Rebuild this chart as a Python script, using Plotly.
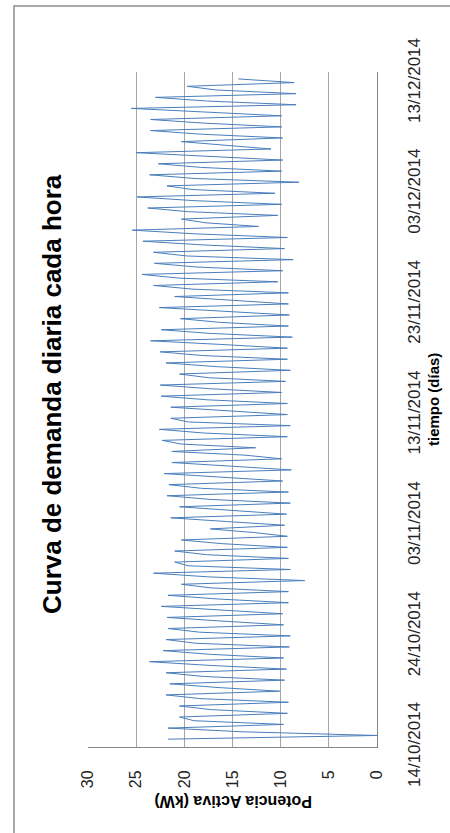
import pandas as pd
import plotly.graph_objects as go

# ---- data (kW) ----
start_date = "2014-10-14"
# daily night minimum, day 1..60
lows = [0.0, 9.7, 9.3, 9.2, 10.1, 9.6, 9.4, 9.7, 9.1, 9.0,
        9.7, 9.8, 9.2, 9.2, 7.5, 9.0, 9.2, 9.3, 9.3, 9.6,
        9.4, 9.0, 9.2, 9.8, 8.9, 9.9, 12.6, 9.3, 9.0, 9.3,
        9.3, 9.9, 9.5, 9.0, 9.3, 9.3, 8.8, 9.2, 9.1, 9.2,
        9.2, 10.3, 9.8, 8.7, 9.6, 9.3, 12.3, 10.3, 9.9, 10.6,
        8.1, 9.9, 9.8, 11.0, 9.8, 9.9, 9.9, 8.4, 8.4, 8.6]
# morning shoulder, day 1..60
shoulders = [14.0, 19.0, 17.2, 18.4, 16.5, 18.0, 17.4, 17.3, 18.8, 18.4,
             16.0, 16.3, 16.5, 17.2, 17.5, 19.6, 17.6, 16.1, 12.7, 15.6,
             15.3, 17.3, 18.2, 15.9, 15.1, 13.7, 20.3, 18.0, 19.6, 16.0,
             17.6, 17.3, 17.5, 16.7, 18.1, 16.1, 17.3, 16.3, 16.0, 14.9,
             19.1, 20.6, 18.7, 19.7, 18.1, 18.9, 17.8, 19.6, 19.0, 19.1,
             18.9, 18.2, 17.9, 15.4, 18.2, 17.9, 17.9, 17.6, 16.7, 14.4]
# afternoon peak, day 0..59
peaks = [21.7, 21.7, 20.5, 20.5, 21.9, 21.5, 21.9, 23.6, 22.2, 21.9,
         21.7, 21.8, 22.4, 21.7, 20.3, 23.2, 21.0, 21.0, 20.3, 17.3,
         21.4, 20.5, 21.8, 21.6, 22.1, 21.3, 21.3, 22.3, 22.6, 21.4,
         21.4, 22.4, 22.5, 20.5, 21.9, 22.5, 23.5, 22.4, 20.4, 22.6,
         21.0, 23.2, 24.4, 23.1, 23.2, 24.3, 25.4, 20.3, 23.8, 24.9,
         21.8, 23.6, 22.7, 25.0, 20.3, 23.5, 23.5, 25.5, 23.0, 19.7]

x_ticks = [0, 5, 10, 15, 20, 25, 30]
date_ticks = ["2014-10-14", "2014-10-24", "2014-11-03", "2014-11-13",
              "2014-11-23", "2014-12-03", "2014-12-13"]
date_labels = ["14/10/2014", "24/10/2014", "03/11/2014", "13/11/2014",
               "23/11/2014", "03/12/2014", "13/12/2014"]

# ---- build the series (night low, morning shoulder, afternoon peak per day) ----
base = pd.Timestamp(start_date)
times, vals = [], []
times.append(base + pd.Timedelta(hours=17)); vals.append(peaks[0])
for d in range(1, 61):
    day = base + pd.Timedelta(days=d)
    times.append(day + pd.Timedelta(hours=1)); vals.append(lows[d - 1])
    times.append(day + pd.Timedelta(hours=9)); vals.append(shoulders[d - 1])
    if d < 60:
        times.append(day + pd.Timedelta(hours=17)); vals.append(peaks[d])

FONT = "Liberation Sans, Arial, sans-serif"

fig = go.Figure()
fig.add_trace(go.Scatter(x=vals, y=times, mode="lines",
                         line=dict(color="#4a7ebb", width=1),
                         showlegend=False, hoverinfo="skip"))

L, R, T, B = 88, 73, 72, 86
W, H = 450, 833
pw, ph = W - L - R, H - T - B


def px(x):
    return (x - L) / pw


def py(y):
    return (H - B - y) / ph


fig.update_layout(
    width=W, height=H,
    margin=dict(l=L, r=R, t=T, b=B, pad=0),
    paper_bgcolor="white", plot_bgcolor="white",
    font=dict(family=FONT, color="black"),
    xaxis=dict(range=[30, 0], tickvals=x_ticks, ticktext=[str(v) for v in x_ticks],
               tickangle=-90, tickfont=dict(size=16, color="#222"),
               showgrid=True, gridcolor="#a6a6a6", gridwidth=1,
               zeroline=False, showline=True, linecolor="#868686", linewidth=1,
               ticks="", ticklabelstandoff=16),
    yaxis=dict(range=[pd.Timestamp("2014-10-14"), pd.Timestamp("2014-12-14")],
               side="right", tickvals=date_ticks, ticktext=date_labels,
               tickangle=-90, tickfont=dict(size=17, color="#222"),
               showgrid=False, zeroline=False, showline=True,
               linecolor="#868686", linewidth=1, ticks="", ticklabelstandoff=22),
    shapes=[dict(type="rect", xref="paper", yref="paper",
                 x0=px(14), x1=px(470), y0=py(850), y1=py(6),
                 line=dict(color="#8c8c8c", width=1.5), fillcolor="rgba(0,0,0,0)",
                 layer="below")],
    annotations=[
        dict(text="<b>Curva de demanda diaria cada hora</b>", x=px(52), y=py(394),
             xref="paper", yref="paper", showarrow=False, textangle=-90,
             xanchor="center", yanchor="middle", font=dict(size=26, color="black")),
        dict(text="<b>Potencia Activa (kW)</b>", x=px(233), y=py(802),
             xref="paper", yref="paper", showarrow=False, textangle=180,
             xanchor="center", yanchor="middle", font=dict(size=16, color="black")),
        dict(text="<b>tiempo (días)</b>", x=px(434), y=py(400),
             xref="paper", yref="paper", showarrow=False, textangle=-90,
             xanchor="center", yanchor="middle", font=dict(size=15, color="black")),
    ],
)

fig.write_html("out.html")
